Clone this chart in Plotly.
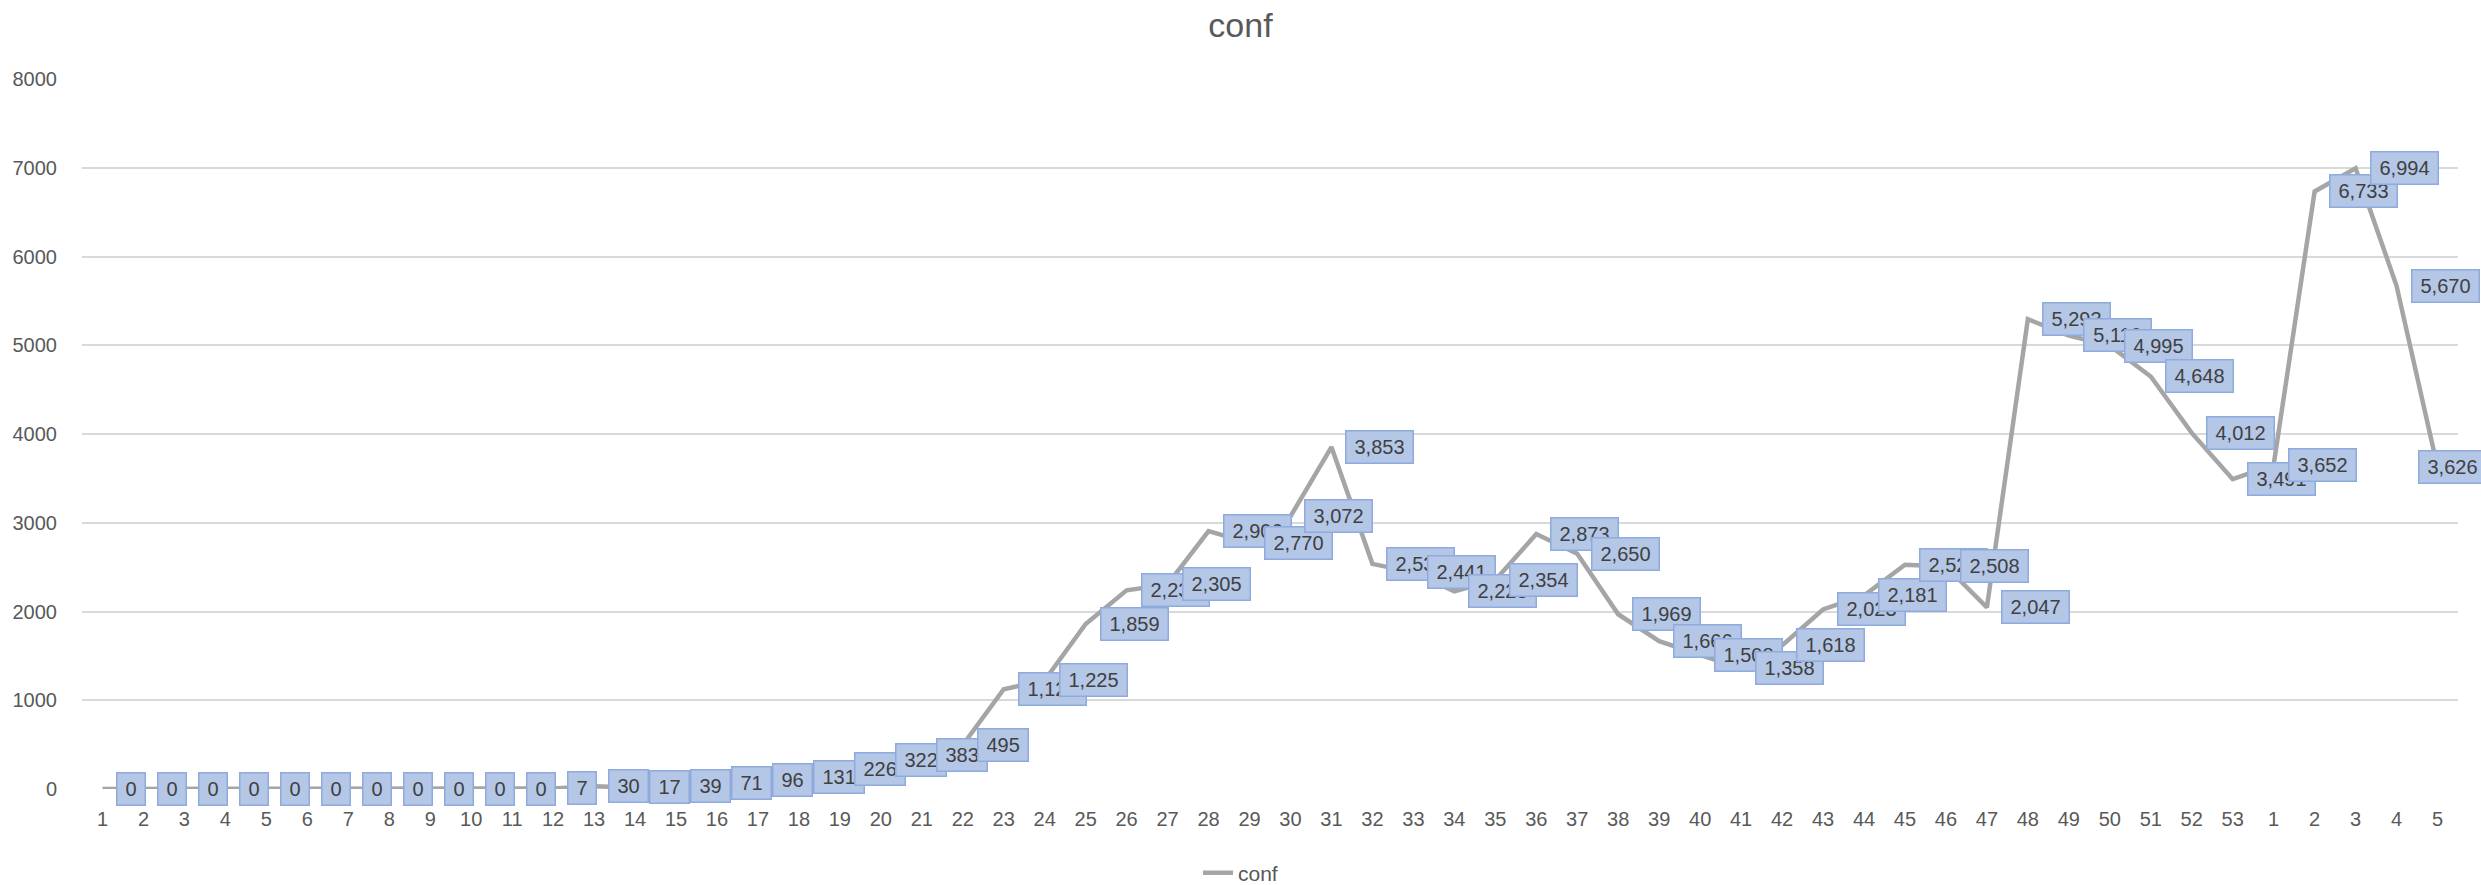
import plotly.graph_objects as go

# ---- data ----
week_labels = [str(w) for w in range(1, 54)] + ["1", "2", "3", "4", "5"]
conf = [0, 0, 0, 0, 0, 0, 0, 0, 0, 0, 0, 7, 30, 17, 39, 71, 96, 131, 226, 322,
        383, 495, 1124, 1225, 1859, 2238, 2305, 2906, 2770, 3072, 3853, 2537,
        2441, 2228, 2354, 2873, 2650, 1969, 1666, 1508, 1358, 1618, 2023, 2181,
        2527, 2508, 2047, 5293, 5110, 4995, 4648, 4012, 3491, 3652, 6733, 6994,
        5670, 3626]
series_name = "conf"
y_ticks = [0, 1000, 2000, 3000, 4000, 5000, 6000, 7000, 8000]

W, H = 2481, 885
ML, MR, MT, MB = 82, 23, 79, 96
FONT = "Liberation Sans"
LBL_SIZE = 20

x = list(range(len(conf)))

fig = go.Figure()
fig.add_trace(go.Scatter(
    x=x, y=conf, mode="lines", name=series_name,
    line=dict(color="#A5A5A5", width=4.5),
    hoverinfo="skip",
))


def text_width(s, size):
    w = 0.0
    for ch in s:
        w += 0.278 if ch in ",." else 0.556
    return w * size


# pixel width of one category slot (used only to keep labels inside the chart, like Excel)
slot = (W - ML - MR) / len(conf)

annotations = []
for xi, v in zip(x, conf):
    txt = f"{v:,}"
    box_w = text_width(txt, LBL_SIZE) + 16
    shift = 14
    px = ML + (xi + 0.5) * slot
    overflow = px + shift + box_w + 3 - (W + 6)
    if overflow > 0:
        shift -= overflow
    annotations.append(dict(
        x=xi, y=v, xref="x", yref="y", text=txt, showarrow=False,
        xanchor="left", yanchor="middle", xshift=shift,
        bgcolor="#B4C7E7", bordercolor="#8FAADC", borderwidth=1.5, borderpad=0,
        width=box_w, height=31,
        font=dict(family=FONT, size=LBL_SIZE, color="#404040"),
    ))

fig.update_layout(
    width=W, height=H,
    margin=dict(l=ML, r=MR, t=MT, b=MB),
    paper_bgcolor="white", plot_bgcolor="white",
    title=dict(text="conf", x=0.5, xref="container", xanchor="center",
               y=1 - 25 / H, yref="container", yanchor="middle",
               font=dict(family=FONT, size=34, color="#595959")),
    font=dict(family=FONT, size=20, color="#595959"),
    showlegend=True,
    legend=dict(orientation="h", xref="container", x=0.5, xanchor="center",
                yref="container", y=(H - 873) / H, yanchor="middle",
                font=dict(family=FONT, size=21, color="#595959"),
                bgcolor="rgba(0,0,0,0)"),
    annotations=annotations,
)
fig.update_xaxes(
    range=[-0.5, len(conf) - 0.5], tickmode="array", tickvals=x,
    ticktext=week_labels, showgrid=False, zeroline=False, showline=False,
    ticks="outside", ticklen=12, tickcolor="rgba(0,0,0,0)",
    tickfont=dict(family=FONT, size=20, color="#595959"),
)
fig.update_yaxes(
    range=[0, 8000], tickmode="array", tickvals=y_ticks,
    ticktext=[str(t) for t in y_ticks],
    showgrid=True, gridcolor="#D9D9D9", gridwidth=1.5,
    zeroline=False, showline=False,
    ticks="outside", ticklen=20, tickcolor="rgba(0,0,0,0)",
    tickfont=dict(family=FONT, size=20, color="#595959"),
)

fig.write_html("out.html", config={"displayModeBar": False},
               post_script="document.body.style.margin='0';")
